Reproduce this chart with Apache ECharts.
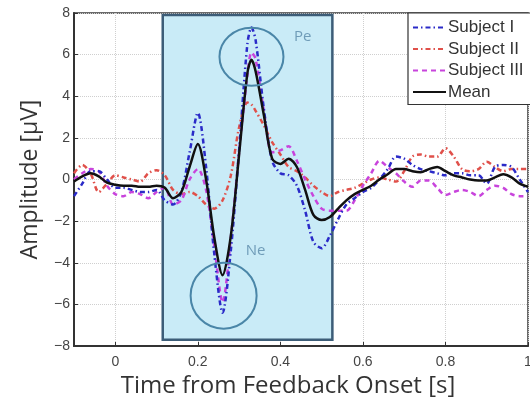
<!DOCTYPE html>
<html>
<head>
<meta charset="utf-8">
<script src="https://cdn.jsdelivr.net/npm/echarts@6/dist/echarts.min.js"></script>
<style>
  html, body { margin: 0; padding: 0; background: #fff; }
  #chart { width: 530px; height: 398px; }
</style>
</head>
<body>
<div id="chart"></div>
<script>
// time axis [s]
var times = [-0.10, -0.08, -0.06, -0.04, -0.02, 0.00, 0.02, 0.04, 0.06, 0.08,
  0.10, 0.12, 0.14, 0.16, 0.18, 0.20, 0.22, 0.24, 0.26, 0.28,
  0.30, 0.32, 0.33, 0.34, 0.36, 0.38, 0.40, 0.42, 0.44, 0.46,
  0.48, 0.50, 0.52, 0.54, 0.56, 0.58, 0.60, 0.62, 0.64, 0.66,
  0.68, 0.70, 0.72, 0.74, 0.76, 0.78, 0.80, 0.82, 0.84, 0.86,
  0.88, 0.90, 0.92, 0.94, 0.96, 0.98, 1.00];

// amplitude [uV]
var subject1 = [-0.8, -0.2, 0.4, 0.4, 0.0, -0.4, -0.4, -0.5, -0.6, -0.6,
  -0.5, -1.0, -1.2, -0.6, 1.3, 3.2, 0.6, -3.6, -6.4, -3.4,
  1.4, 6.5, 7.3, 6.7, 3.4, 0.9, 0.3, 0.2, -0.3, -1.5,
  -3.0, -3.3, -2.7, -1.9, -1.2, -0.9, -0.6, -0.4, 0.0, 0.5,
  1.1, 1.0, 0.7, 0.5, 0.4, 0.3, 0.2, 0.3, 0.3, 0.2,
  0.2, -0.2, 0.6, 0.7, 0.6, 0.0, -0.6];

var subject2 = [0.3, 0.7, 0.3, -0.6, -0.2, 0.2, 0.1, 0.0, -0.1, 0.3,
  0.45, 0.2, -0.5, -0.7, -0.6, -0.8, -1.2, -1.4, -1.0, 0.2,
  2.5, 3.7, 3.6, 3.3, 2.6, 1.8, 1.2, 0.6, 0.4, 0.1,
  -0.3, -0.6, -0.8, -0.6, -0.5, -0.4, -0.2, 0.0, 0.1, 0.0,
  -0.1, 0.4, 1.1, 1.2, 1.1, 1.1, 1.5, 1.1, 0.5, 0.4,
  0.5, 0.85, 0.6, 0.4, 0.5, 0.5, 0.5];

var subject3 = [0.0, 0.3, 0.5, 0.4, -0.3, -0.7, -0.8, -0.6, -0.7, -0.9,
  -0.6, -0.4, -1.2, -1.0, 0.0, 0.5, -0.5, -3.2, -5.9, -2.8,
  1.3, 5.0, 6.1, 5.8, 3.3, 1.3, 1.4, 1.6, 0.9, 0.0,
  -0.8, -1.4, -1.5, -1.5, -1.5, -1.0, -0.3, 0.3, 0.9, 0.6,
  0.3, -0.1, -0.35, -0.05, -0.05, -0.4, -0.75, -0.6, -0.5, -0.6,
  -0.8, -0.5, -0.3, -0.4, -0.7, -0.8, -0.8];

var meanCurve = [-0.1, 0.15, 0.3, 0.15, -0.15, -0.25, -0.3, -0.3, -0.35, -0.35,
  -0.3, -0.4, -0.9, -0.6, 0.6, 1.7, 0.0, -2.8, -4.6, -2.7,
  1.2, 5.1, 5.75, 5.2, 3.1, 1.0, 0.75, 1.0, 0.6, -0.5,
  -1.7, -1.95, -1.8, -1.4, -1.0, -0.7, -0.5, -0.3, 0.0, 0.25,
  0.5, 0.5, 0.4, 0.35, 0.5, 0.6, 0.4, 0.2, 0.1, 0.0,
  -0.05, -0.05, 0.1, 0.25, 0.1, -0.2, -0.35];

// highlighted window (time, amplitude)
var windowX = [0.115, 0.526];
var windowY = [-7.7, 7.9];

// circled components
var ringX = [0.33, 0.2625];
var ringY = [5.9, -5.58];
var noteText = ['Pe', 'Ne'];
var noteX = [0.454, 0.34];
var noteY = [6.85, -3.42];

var seriesNames = ['Subject I', 'Subject II', 'Subject III', 'Mean'];

function pairs(ys) {
  return times.map(function (t, i) { return [t, ys[i]]; });
}

var chart = echarts.init(document.getElementById('chart'));

var option = {
  animation: false,
  backgroundColor: '#fff',
  grid: {
    left: 74, right: 2, top: 13, bottom: 52,
    outerBoundsMode: 'none', containLabel: false,
    show: true, borderColor: '#3a3a3a', borderWidth: 1.5, backgroundColor: '#fff'
  },
  legend: {
    orient: 'vertical',
    left: 408, top: 13,
    data: seriesNames,
    itemWidth: 33, itemHeight: 12, itemGap: 4.5,
    padding: [6, 30, 4, 4],
    backgroundColor: '#fff',
    borderColor: '#333', borderWidth: 1.2,
    itemStyle: { opacity: 0 },
    textStyle: { fontFamily: 'Liberation Sans', fontSize: 17, color: '#333', padding: [0, 0, 0, -3] }
  },
  xAxis: {
    type: 'value', min: -0.1, max: 1.0, splitNumber: 5,
    name: 'Time from Feedback Onset [s]', nameLocation: 'middle', nameGap: 23,
    nameTextStyle: { fontFamily: 'Open Sans', fontSize: 24, color: '#333', padding: [0, 26, 0, 0] },
    axisLine: { show: true, onZero: false, lineStyle: { color: '#333', width: 2 } },
    axisTick: { show: true, inside: true, length: 4, lineStyle: { color: '#333' } },
    axisLabel: {
      showMinLabel: false, margin: 9,
      fontFamily: 'Liberation Sans', fontSize: 14, color: '#444',
      formatter: function (v) { return Math.abs(v) < 1e-9 ? '0' : String(+v.toFixed(1)); }
    },
    splitLine: { show: true, lineStyle: { color: '#cfcfcf', type: 'dotted', width: 1 } }
  },
  yAxis: {
    type: 'value', min: -8, max: 8, interval: 2,
    name: 'Amplitude [\u03bcV]', nameLocation: 'middle', nameGap: 32, nameRotate: 90,
    nameTextStyle: { fontFamily: 'Open Sans', fontSize: 23, color: '#333' },
    axisLine: { show: true, onZero: false, lineStyle: { color: '#333', width: 2 } },
    axisTick: { show: true, inside: true, length: 4, lineStyle: { color: '#333' } },
    axisLabel: {
      margin: 4, fontFamily: 'Liberation Sans', fontSize: 14, color: '#444',
      formatter: function (v) { return String(v).replace('-', '\u2212'); }
    },
    splitLine: { show: true, lineStyle: { color: '#cfcfcf', type: 'dotted', width: 1 } }
  },
  series: [
    {
      name: 'window', type: 'line', data: [], z: 1, silent: true,
      markArea: {
        silent: true,
        itemStyle: { color: '#c9ebf7', borderColor: '#3c5d78', borderWidth: 2.5 },
        data: [[{ xAxis: windowX[0], yAxis: windowY[0] }, { xAxis: windowX[1], yAxis: windowY[1] }]]
      }
    },
    {
      name: 'Subject II', type: 'line', data: pairs(subject2), z: 3,
      symbol: 'none', smooth: 0.3,
      itemStyle: { color: '#e0504a' },
      lineStyle: { color: '#e0504a', width: 2.5, type: [5, 3, 1.5, 3] }
    },
    {
      name: 'Subject III', type: 'line', data: pairs(subject3), z: 4,
      symbol: 'none', smooth: 0.3,
      itemStyle: { color: '#c844dc' },
      lineStyle: { color: '#c844dc', width: 2.5, type: [5, 4] }
    },
    {
      name: 'Subject I', type: 'line', data: pairs(subject1), z: 5,
      symbol: 'none', smooth: 0.3,
      itemStyle: { color: '#2a2ac8' },
      lineStyle: { color: '#2a2ac8', width: 2.5, type: [5, 3, 1.5, 3] }
    },
    {
      name: 'Mean', type: 'line', data: pairs(meanCurve), z: 6,
      symbol: 'none', smooth: 0.3,
      itemStyle: { color: '#111' },
      lineStyle: { color: '#111', width: 2.5 }
    },
    {
      name: 'rings', type: 'custom', z: 7, silent: true,
      data: ringX.map(function (x, i) { return [x, ringY[i]]; }),
      renderItem: function (params, api) {
        var p = api.coord([api.value(0), api.value(1)]);
        var r = params.dataIndex === 0 ? [32, 29] : [33, 33];
        return {
          type: 'ellipse',
          shape: { cx: p[0], cy: p[1], rx: r[0], ry: r[1] },
          style: { fill: 'none', stroke: '#4a86a8', lineWidth: 2 }
        };
      }
    },
    {
      name: 'notes', type: 'custom', z: 7, silent: true,
      data: noteX.map(function (x, i) { return [x, noteY[i], noteText[i]]; }),
      renderItem: function (params, api) {
        var p = api.coord([api.value(0), api.value(1)]);
        return {
          type: 'text',
          x: p[0], y: p[1],
          style: {
            text: noteText[params.dataIndex],
            fill: '#6f9cb8', font: '15px "Open Sans"',
            align: 'center', verticalAlign: 'middle'
          }
        };
      }
    }
  ]
};

option && chart.setOption(option);
</script>
</body>
</html>
